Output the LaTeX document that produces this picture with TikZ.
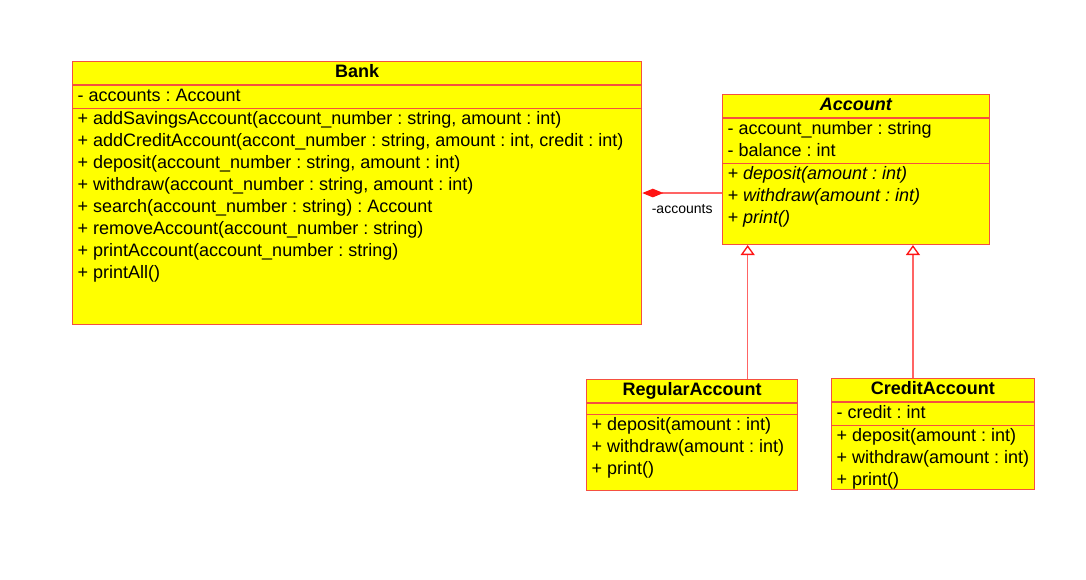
\documentclass[tikz,border=0pt]{standalone}
\usepackage{fontspec}
\setmainfont{Liberation Sans}
\frenchspacing
\usepackage{tikz}
\usetikzlibrary{shapes.multipart, arrows.meta, positioning, calc}
\definecolor{classfill}{RGB}{255, 255, 0}
\definecolor{classline}{RGB}{245, 80, 64}
\definecolor{linkline}{RGB}{255, 100, 100}
\definecolor{tipred}{RGB}{255, 20, 20}
\newcommand{\classgap}[1]{\rule[-#1]{0pt}{#1}}
\tikzset{
    umlclass/.style={rectangle split, rectangle split parts=3, rectangle split part align={center, left, left}, align=left, draw=classline, fill=classfill, line width=1pt, inner xsep=3.75pt, inner ysep=0pt, anchor=north west, font=\fontsize{13.5}{16.5}\selectfont},
    composition/.style={line width=1pt, linkline, {Diamond[length=15.75pt, width=6.5pt, tipred]}-},
    inherit/.style={line width=1pt, linkline, -{Triangle[open, length=7.5pt, width=10.5pt, tipred]}},
    rolelabel/.style={font=\fontsize{10.5}{12}\selectfont, text=black}
}
\begin{document}
\begin{tikzpicture}[x=0.75pt, y=-0.75pt]
    \useasboundingbox (0,0) rectangle (1086,579);
    \node[umlclass, minimum width=426.75pt] (bank) at (72,61)
        {\strut\textbf{Bank}
         \nodepart{two}\strut- accounts : Account
         \nodepart{three}\strut+ addSavingsAccount(account\_number : string, amount : int)\\
         + addCreditAccount(accont\_number : string, amount : int, credit : int)\\
         + deposit(account\_number : string, amount : int)\\
         + withdraw(account\_number : string, amount : int)\\
         + search(account\_number : string) : Account\\
         + removeAccount(account\_number : string)\\
         + printAccount(account\_number : string)\\
         + printAll()\classgap{34pt}};
    \node[umlclass, minimum width=200.25pt] (account) at (722,94)
        {\strut\textbf{\textit{Account}}
         \nodepart{two}\strut- account\_number : string\\
         - balance : int\strut
         \nodepart{three}\strut\textit{+ deposit(amount : int)}\\
         \textit{+ withdraw(amount : int)}\\
         \textit{+ print()}\classgap{15.25pt}};
    \node[umlclass, minimum width=158.25pt, rectangle split empty part height=7.5pt, rectangle split empty part depth=0pt] (regular) at (586,379)
        {\strut\textbf{RegularAccount}
         \nodepart{two}
         \nodepart{three}\strut+ deposit(amount : int)\\
         + withdraw(amount : int)\\
         + print()\classgap{11.5pt}};
    \node[umlclass, minimum width=151.5pt] (credit) at (831,378)
        {\strut\textbf{CreditAccount}
         \nodepart{two}\strut- credit : int
         \nodepart{three}\strut+ deposit(amount : int)\\
         + withdraw(amount : int)\\
         + print()\classgap{2.7pt}};
    % Composition
    \draw[composition] (bank.east) -- (bank.east -| account.west)
        node[rolelabel, midway, below=5pt] {-accounts};
    % Generalization
    \draw[inherit] ([xshift=41.625pt]regular.north) -- ([xshift=41.625pt]regular.north |- account.south);
    \draw[inherit] ([xshift=-15pt]credit.north) -- ([xshift=-15pt]credit.north |- account.south);
\end{tikzpicture}
\end{document}
